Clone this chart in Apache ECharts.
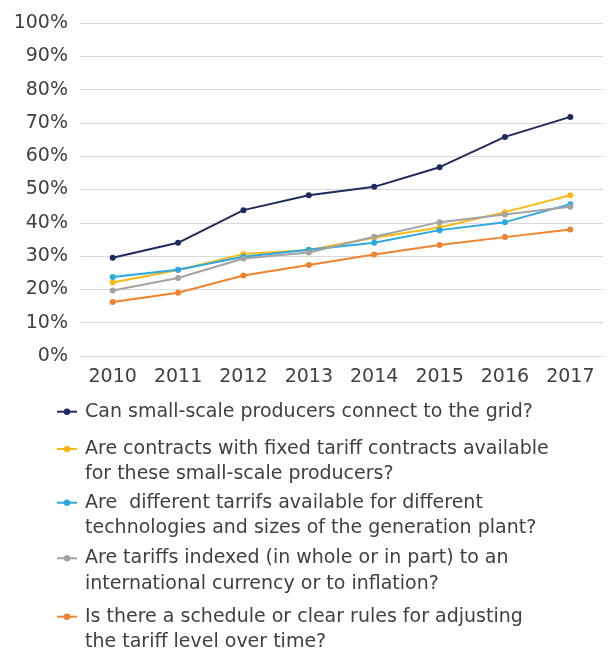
<!DOCTYPE html>
<html>
<head>
<meta charset="utf-8">
<script src="https://cdn.jsdelivr.net/npm/echarts@6/dist/echarts.min.js"></script>
<style>
  html, body { margin: 0; padding: 0; background: #fff; }
  #chart { width: 615px; height: 651px; }
</style>
</head>
<body>
<div id="chart"></div>
<script>
// Survey years
const years = ['2010', '2011', '2012', '2013', '2014', '2015', '2016', '2017'];

// Share of countries answering "yes" (%)
const connectGrid   = [29.5, 34.0, 43.8, 48.3, 50.8, 56.7, 65.8, 71.8];
const fixedTariff   = [22.1, 25.8, 30.6, 31.8, 35.5, 38.6, 43.2, 48.3];
const diffTariffs   = [23.7, 25.9, 29.8, 31.9, 34.0, 37.8, 40.2, 45.6];
const indexedTariff = [19.7, 23.4, 29.3, 31.1, 35.8, 40.2, 42.5, 44.8];
const schedule      = [16.2, 19.0, 24.2, 27.3, 30.5, 33.3, 35.7, 38.0];

// Series names and their wrapped legend text
const seriesNames = [
  'Can small-scale producers connect to the grid?',
  'Are contracts with fixed tariff contracts available for these small-scale producers?',
  'Are  different tarrifs available for different technologies and sizes of the generation plant?',
  'Are tariffs indexed (in whole or in part) to an international currency or to inflation?',
  'Is there a schedule or clear rules for adjusting the tariff level over time?'
];
const legendLines = [
  ['Can small-scale producers connect to the grid?'],
  ['Are contracts with fixed tariff contracts available', 'for these small-scale producers?'],
  ['Are  different tarrifs available for different', 'technologies and sizes of the generation plant?'],
  ['Are tariffs indexed (in whole or in part) to an', 'international currency or to inflation?'],
  ['Is there a schedule or clear rules for adjusting', 'the tariff level over time?']
];
const seriesData = [connectGrid, fixedTariff, diffTariffs, indexedTariff, schedule];
const colors = ['#1f2a5e', '#fbb916', '#2aa9e0', '#a3a3a3', '#f0832e'];

const FONT = '"DejaVu Sans", sans-serif';
const FS = 19;
const TEXT = '#404040';
const LH = 25.5;
// Vertical centre of each legend icon
const iconCenters = [411.7, 449, 502.7, 558.3, 616.7];

// One legend per entry; a leading empty line keeps the icon level with the first text line
const legends = seriesNames.map((name, i) => {
  const lines = legendLines[i];
  const n = lines.length;
  const text = (n > 1 ? '\n' : '') + lines.join('\n');
  const blockH = (2 * n - 1) * LH;
  return {
    data: [name],
    left: 56,
    top: iconCenters[i] - blockH / 2,
    padding: 0,
    itemWidth: 20,
    itemHeight: 8,
    selectedMode: false,
    formatter: () => text,
    textStyle: {
      fontFamily: FONT,
      fontSize: FS,
      color: TEXT,
      lineHeight: LH,
      padding: [0, 0, 0, 3]
    }
  };
});

const chart = echarts.init(document.getElementById('chart'), null, { renderer: 'canvas' });
chart.setOption({
  animation: false,
  backgroundColor: '#ffffff',
  color: colors,
  grid: { left: 80, right: 12, top: 23, bottom: 295, containLabel: false },
  legend: legends,
  xAxis: {
    type: 'category',
    data: years,
    boundaryGap: true,
    axisLine: { show: false },
    axisTick: { show: false },
    axisLabel: { fontFamily: FONT, fontSize: FS, color: TEXT, margin: 12 }
  },
  yAxis: {
    type: 'value',
    min: 0,
    max: 100,
    interval: 10,
    axisLine: { show: false },
    axisTick: { show: false },
    splitLine: { lineStyle: { color: '#d9d9d9', width: 1 } },
    axisLabel: { fontFamily: FONT, fontSize: FS, color: TEXT, margin: 12, formatter: '{value}%' }
  },
  series: seriesNames.map((name, i) => ({
    name: name,
    type: 'line',
    data: seriesData[i],
    symbol: 'circle',
    symbolSize: 6,
    lineStyle: { width: 2, color: colors[i] },
    itemStyle: { color: colors[i] }
  }))
});
</script>
</body>
</html>
